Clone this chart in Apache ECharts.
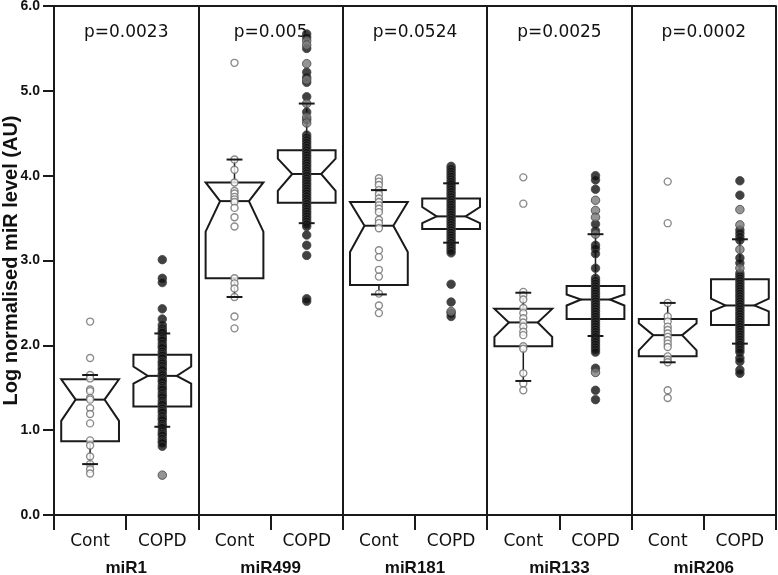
<!DOCTYPE html>
<html>
<head>
<meta charset="utf-8">
<script src="https://cdn.jsdelivr.net/npm/echarts@6/dist/echarts.min.js"></script>
<style>html,body{margin:0;padding:0;background:#fff}#c{width:778px;height:575px}</style>
</head>
<body>
<div id="c"></div>
<script>
// ---- data ----
const groups = ['miR1', 'miR499', 'miR181', 'miR133', 'miR206'];
const subgroups = ['Cont', 'COPD'];
const pValues = ['p=0.0023', 'p=0.005', 'p=0.0524', 'p=0.0025', 'p=0.0002'];
const yTicks = [0, 1, 2, 3, 4, 5, 6];
// box stats: [whiskerLow, q1, notchLow, median, notchHigh, q3, whiskerHigh]
const contStats = [
  [0.60, 0.87, 1.11, 1.36, 1.60, 1.60, 1.65],
  [2.57, 2.79, 3.34, 3.70, 3.92, 3.92, 4.19],
  [2.60, 2.71, 3.10, 3.41, 3.69, 3.69, 3.83],
  [1.58, 1.99, 2.10, 2.27, 2.43, 2.43, 2.62],
  [1.80, 1.87, 1.94, 2.12, 2.26, 2.31, 2.50]
];
const copdStats = [
  [1.04, 1.28, 1.55, 1.64, 1.75, 1.89, 2.14],
  [3.44, 3.68, 3.82, 4.02, 4.20, 4.30, 4.85],
  [3.21, 3.37, 3.44, 3.52, 3.63, 3.73, 3.91],
  [2.11, 2.31, 2.47, 2.54, 2.60, 2.70, 3.31],
  [2.02, 2.24, 2.40, 2.47, 2.55, 2.78, 3.25]
];
const contPoints = [
  [2.28, 1.85, 1.65, 1.61, 1.48, 1.46, 1.38, 1.36, 1.26, 1.19, 1.08, 0.88, 0.82, 0.69, 0.60, 0.54, 0.49],
  [5.33, 4.19, 4.07, 3.92, 3.82, 3.79, 3.75, 3.72, 3.69, 3.62, 3.51, 3.40, 2.79, 2.73, 2.67, 2.57, 2.34, 2.20],
  [3.97, 3.93, 3.89, 3.83, 3.78, 3.73, 3.69, 3.65, 3.61, 3.57, 3.48, 3.44, 3.38, 3.12, 3.04, 2.89, 2.81, 2.61, 2.47, 2.38],
  [3.98, 3.67, 2.63, 2.59, 2.54, 2.44, 2.38, 2.32, 2.27, 2.22, 2.16, 2.12, 1.99, 1.96, 1.67, 1.55, 1.47],
  [3.93, 3.44, 2.50, 2.34, 2.28, 2.22, 2.18, 2.14, 2.10, 2.06, 2.02, 1.98, 1.87, 1.83, 1.80, 1.47, 1.38]
];
const copdPoints = [
  [3.01, 2.79, 2.74, 2.43, 2.31, 2.24, 2.20, 2.17, 2.15, 2.11, 2.08, 2.06, 2.02, 1.99, 1.97, 1.93, 1.90, 1.88, 1.85, 1.81, 1.79, 1.76, 1.73, 1.71, 1.67, 1.65, 1.62, 1.59, 1.57, 1.53, 1.50, 1.48, 1.44, 1.41, 1.39, 1.35, 1.32, 1.30, 1.26, 1.23, 1.21, 1.17, 1.14, 1.12, 1.08, 1.05, 1.03, 0.99, 0.96, 0.94, 0.90, 0.87, 0.85, 0.81],
  [5.67, 5.63, 5.50, 5.22, 5.16, 5.10, 4.93, 4.75, 4.66, 4.48, 4.45, 4.42, 4.39, 4.36, 4.33, 4.30, 4.27, 4.24, 4.21, 4.18, 4.15, 4.12, 4.09, 4.06, 4.03, 4.00, 3.97, 3.94, 3.91, 3.88, 3.85, 3.82, 3.79, 3.76, 3.73, 3.70, 3.67, 3.64, 3.61, 3.58, 3.55, 3.52, 3.49, 3.46, 3.43, 3.40, 3.30, 3.18, 3.06, 2.55, 2.52],
  [4.11, 4.08, 4.05, 4.02, 3.99, 3.96, 3.93, 3.90, 3.87, 3.84, 3.81, 3.78, 3.75, 3.72, 3.69, 3.66, 3.63, 3.60, 3.57, 3.54, 3.51, 3.48, 3.45, 3.42, 3.39, 3.36, 3.33, 3.30, 3.27, 3.24, 3.21, 3.18, 3.15, 3.12, 3.09, 2.72, 2.51, 2.38, 2.34],
  [4.00, 3.95, 3.84, 3.43, 3.35, 3.18, 3.14, 3.08, 2.91, 2.79, 2.76, 2.73, 2.70, 2.67, 2.64, 2.61, 2.58, 2.55, 2.52, 2.49, 2.46, 2.43, 2.40, 2.37, 2.34, 2.31, 2.28, 2.25, 2.22, 2.19, 2.16, 2.13, 2.10, 2.07, 2.04, 2.01, 1.98, 1.95, 1.92, 1.73, 1.47, 1.36],
  [3.94, 3.77, 3.36, 3.32, 3.28, 3.24, 3.03, 2.97, 2.85, 2.82, 2.79, 2.76, 2.73, 2.70, 2.67, 2.64, 2.61, 2.58, 2.55, 2.52, 2.49, 2.46, 2.43, 2.40, 2.37, 2.34, 2.31, 2.28, 2.25, 2.22, 2.19, 2.16, 2.13, 2.10, 2.07, 2.04, 2.01, 1.98, 1.95, 1.92, 1.85, 1.81, 1.71, 1.67]
];
const copdGreyPoints = [
  [0.47],
  [5.59, 5.54, 5.32, 5.13, 4.85, 4.69, 4.62],
  [2.40],
  [3.71, 3.59, 3.51, 3.31, 1.68],
  [3.60, 3.42, 3.13, 2.91]
];

// ---- build ----
const LINE = '#1a1a1a';
const xPos = (g, s) => g * 2 + s + 0.5;
const boxData = [], contScatter = [], copdScatter = [], greyScatter = [];
groups.forEach((name, g) => {
  [contStats[g], copdStats[g]].forEach((st, s) => boxData.push([xPos(g, s)].concat(st)));
  contPoints[g].forEach(v => contScatter.push([xPos(g, 0), v]));
  copdPoints[g].forEach(v => copdScatter.push([xPos(g, 1), v]));
  copdGreyPoints[g].forEach(v => greyScatter.push([xPos(g, 1), v]));
});
const catLabels = [];
groups.forEach(() => subgroups.forEach(s => catLabels.push(s)));

function renderBox(params, api) {
  const x = api.value(0);
  const wLo = api.value(1), q1 = api.value(2), nLo = api.value(3), med = api.value(4), nHi = api.value(5), q3 = api.value(6), wHi = api.value(7);
  const unit = api.size([1, 0])[0];
  const hw = unit * 0.4, iw = hw * 0.5;
  const cx = api.coord([x, med])[0];
  const Y = v => api.coord([x, v])[1];
  const pts = [
    [cx - hw, Y(q1)], [cx - hw, Y(nLo)], [cx - iw, Y(med)], [cx - hw, Y(nHi)], [cx - hw, Y(q3)],
    [cx + hw, Y(q3)], [cx + hw, Y(nHi)], [cx + iw, Y(med)], [cx + hw, Y(nLo)], [cx + hw, Y(q1)]
  ];
  return {
    type: 'group',
    children: [
      { type: 'line', shape: { x1: cx, y1: Y(wLo), x2: cx, y2: Y(q1) }, style: { stroke: LINE, lineWidth: 1.5 } },
      { type: 'line', shape: { x1: cx, y1: Y(q3), x2: cx, y2: Y(wHi) }, style: { stroke: LINE, lineWidth: 1.5 } },
      { type: 'polygon', shape: { points: pts }, style: { fill: '#fff', stroke: LINE, lineWidth: 2 } },
      { type: 'line', shape: { x1: cx - iw, y1: Y(med), x2: cx + iw, y2: Y(med) }, style: { stroke: LINE, lineWidth: 2 } }
    ]
  };
}
function renderCaps(params, api) {
  const x = api.value(0);
  const unit = api.size([1, 0])[0];
  const cw = unit * 0.11;
  const cx = api.coord([x, 0])[0];
  const y1 = api.coord([x, api.value(1)])[1], y2 = api.coord([x, api.value(7)])[1];
  return {
    type: 'group',
    children: [
      { type: 'line', shape: { x1: cx - cw, y1: y1, x2: cx + cw, y2: y1 }, style: { stroke: LINE, lineWidth: 2 } },
      { type: 'line', shape: { x1: cx - cw, y1: y2, x2: cx + cw, y2: y2 }, style: { stroke: LINE, lineWidth: 2 } }
    ]
  };
}

const chart = echarts.init(document.getElementById('c'), null, { renderer: 'canvas' });
chart.setOption({
  animation: false,
  backgroundColor: '#fff',
  grid: { left: 54, right: 2, top: 6, bottom: 60, containLabel: false, outerBoundsMode: 'none' },
  xAxis: [
    { type: 'value', min: 0, max: 10, interval: 2, position: 'bottom',
      axisLine: { show: false }, axisTick: { show: false }, axisLabel: { show: false },
      splitLine: { show: true, lineStyle: { color: LINE, width: 2 } } },
    { type: 'category', data: catLabels, position: 'bottom', boundaryGap: true,
      axisLine: { show: true, onZero: false, lineStyle: { color: LINE, width: 2 } },
      axisTick: { show: true, length: 15, lineStyle: { color: LINE, width: 2 } },
      axisLabel: { show: true, interval: 0, margin: 18, fontSize: 17, fontFamily: 'DejaVu Sans', color: '#111' },
      splitLine: { show: false } },
    { type: 'category', data: groups, position: 'bottom', boundaryGap: true,
      axisLine: { show: false, onZero: false }, axisTick: { show: false },
      axisLabel: { show: true, interval: 0, margin: 45, fontSize: 17, fontWeight: 'bold', fontFamily: 'Liberation Sans', color: '#111' },
      splitLine: { show: false } },
    { type: 'category', data: pValues, position: 'top', boundaryGap: true,
      axisLine: { show: true, onZero: false, lineStyle: { color: LINE, width: 2 } }, axisTick: { show: false },
      axisLabel: { show: true, inside: true, interval: 0, margin: 18, fontSize: 17, fontFamily: 'DejaVu Sans', color: '#111' },
      splitLine: { show: false } }
  ],
  yAxis: {
    type: 'value', min: yTicks[0], max: yTicks[yTicks.length - 1], interval: 1,
    name: 'Log normalised miR level (AU)', nameLocation: 'middle', nameGap: 33, nameMoveOverlap: false,
    nameTextStyle: { fontSize: 20, fontWeight: 'bold', fontFamily: 'Liberation Sans', color: '#111' },
    axisLine: { show: true, onZero: false, lineStyle: { color: LINE, width: 2 } },
    axisTick: { show: true, length: 11, lineStyle: { color: LINE, width: 2 } },
    axisLabel: { margin: 14, fontSize: 14, fontWeight: 'bold', fontFamily: 'Liberation Sans', color: '#111', formatter: v => v.toFixed(1) },
    splitLine: { show: false }
  },
  series: [
    { type: 'custom', xAxisIndex: 0, renderItem: renderBox, data: boxData, z: 2,
      encode: { x: 0, y: [1, 2, 3, 4, 5, 6, 7] } },
    { type: 'scatter', xAxisIndex: 0, data: contScatter, symbol: 'circle', symbolSize: 7, z: 3,
      itemStyle: { color: '#fff', borderColor: '#6e6e6e', borderWidth: 1.4 } },
    { type: 'scatter', xAxisIndex: 0, data: copdScatter, symbol: 'circle', symbolSize: 8.5, z: 3,
      itemStyle: { color: '#111', borderColor: '#444', borderWidth: 1 } },
    { type: 'scatter', xAxisIndex: 0, data: greyScatter, symbol: 'circle', symbolSize: 8.5, z: 3,
      itemStyle: { color: '#7a7a7a', borderColor: '#444', borderWidth: 1 } },
    { type: 'custom', xAxisIndex: 0, renderItem: renderCaps, data: boxData, z: 4,
      encode: { x: 0, y: [1, 7] } }
  ]
});
</script>
</body>
</html>
